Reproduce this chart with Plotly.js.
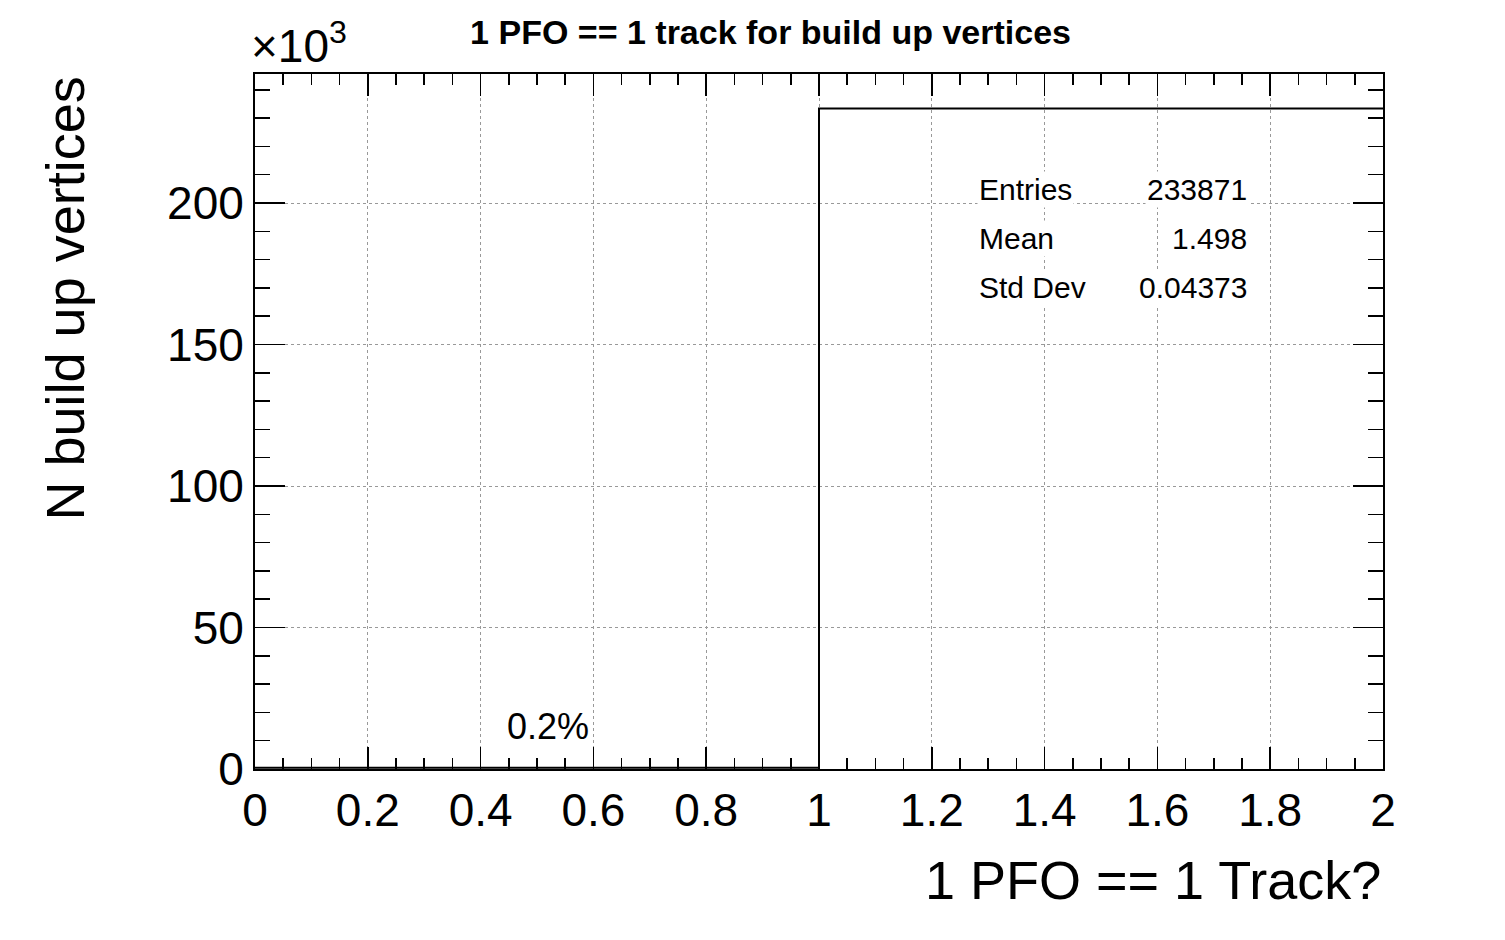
<!DOCTYPE html>
<html>
<head>
<meta charset="utf-8">
<script src="https://cdn.plot.ly/plotly-3.0.1.min.js"></script>
<style>body{margin:0;background:#fff}</style>
</head>
<body>
<div id="plot" style="width:1505px;height:940px"></div>
<script>
// histogram: two bins over [0,2]
const binEdges = [0, 1, 2];
const binCounts = [447, 233424];
const statNames = ['Entries', 'Mean', 'Std Dev'];
const statValues = ['233871', '1.498', '0.04373'];
const yTickVals = [0, 50000, 100000, 150000, 200000];
const yTickText = ['0', '50', '100', '150', '200'];

const font = 'Liberation Sans, Arial, sans-serif';

const trace = {
  x: binEdges,
  y: [binCounts[0], binCounts[1], binCounts[1]],
  type: 'scatter',
  mode: 'lines',
  line: {shape: 'hv', color: '#000', width: 2},
  hoverinfo: 'skip'
};

const annotations = [
  {xref: 'paper', yref: 'paper', x: -0.005, y: 1.0, xanchor: 'left', yanchor: 'bottom',
   text: '×10<sup>3</sup>', showarrow: false, font: {family: font, size: 46, color: '#000'}},
  {x: 0.52, y: 15000, text: '0.2%', showarrow: false,
   font: {family: font, size: 36, color: '#000'}},
  // axis titles, placed ROOT-style
  {xref: 'paper', yref: 'paper', x: 1, y: -0.16, xanchor: 'right', yanchor: 'middle',
   text: '1 PFO == 1 Track?', showarrow: false, font: {family: font, size: 54, color: '#000'}},
  {xref: 'paper', yref: 'paper', x: -0.168, y: 1.0, xanchor: 'center', yanchor: 'top',
   textangle: -90, text: 'N build up vertices', showarrow: false,
   font: {family: font, size: 54, color: '#000'}}
];
statNames.forEach((n, i) => {
  const yy = 0.86 - i * 0.07;
  annotations.push({xref: 'paper', yref: 'paper', x: 0.64, y: yy, xanchor: 'left',
    text: n, showarrow: false, font: {family: font, size: 30, color: '#000'}, bgcolor: '#fff'});
  annotations.push({xref: 'paper', yref: 'paper', x: 0.881, y: yy, xanchor: 'right',
    text: statValues[i], showarrow: false, font: {family: font, size: 30, color: '#000'}, bgcolor: '#fff'});
});

const axisCommon = {
  showline: true, linecolor: '#000', linewidth: 2, mirror: 'allticks',
  ticks: 'inside', ticklen: 22, tickwidth: 1.5, tickcolor: '#000',
  showgrid: true, gridcolor: '#999', griddash: 'dot', gridwidth: 1,
  zeroline: false, tickfont: {family: font, size: 46, color: '#000'}
};

const layout = {
  width: 1505, height: 940,
  margin: {l: 255, r: 122, t: 74, b: 171},
  paper_bgcolor: '#fff', plot_bgcolor: '#fff',
  showlegend: false,
  title: {text: '<b>1 PFO == 1 track for build up vertices</b>', x: 0.512, xanchor: 'center',
          y: 0.978, font: {family: font, size: 34, color: '#000'}},
  xaxis: Object.assign({}, axisCommon, {
    range: [0, 2], dtick: 0.2, tick0: 0,
    minor: {dtick: 0.05, ticks: 'inside', ticklen: 11, tickcolor: '#000', showgrid: false}
  }),
  yaxis: Object.assign({}, axisCommon, {
    range: [0, 245600], tickvals: yTickVals, ticktext: yTickText, ticklen: 30,
    minor: {dtick: 10000, ticks: 'inside', ticklen: 15, tickcolor: '#000', showgrid: false}
  }),
  annotations: annotations
};

Plotly.newPlot('plot', [trace], layout, {staticPlot: true});
</script>
</body>
</html>
